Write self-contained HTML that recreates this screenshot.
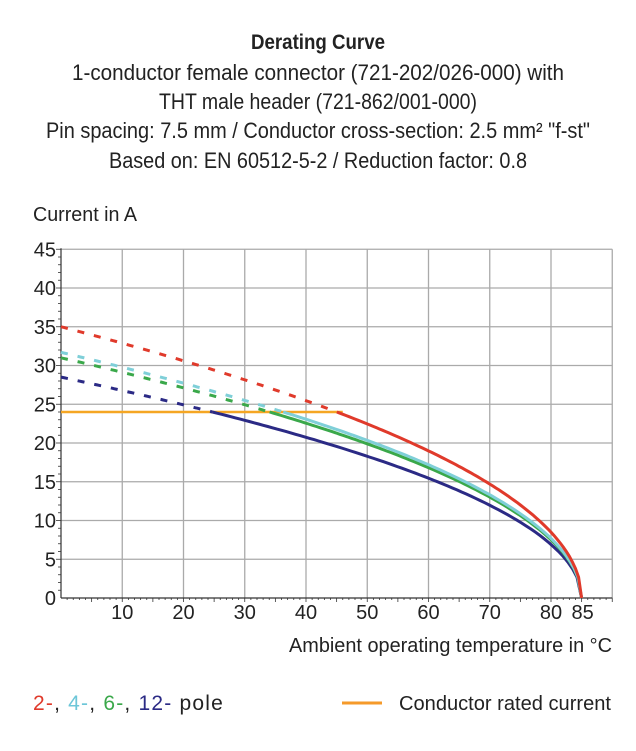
<!DOCTYPE html>
<html><head><meta charset="utf-8"><style>html,body{margin:0;padding:0;background:#fff}</style></head>
<body>
<svg id="s" width="636" height="746" xmlns="http://www.w3.org/2000/svg" font-family="Liberation Sans, sans-serif" fill="#222">
<text x="318" y="49" text-anchor="middle" font-size="21" font-weight="bold" textLength="134" lengthAdjust="spacingAndGlyphs">Derating Curve</text>
<text x="318" y="80" text-anchor="middle" font-size="22" textLength="492" lengthAdjust="spacingAndGlyphs">1-conductor female connector (721-202/026-000) with</text>
<text x="318" y="109" text-anchor="middle" font-size="22" textLength="318" lengthAdjust="spacingAndGlyphs">THT male header (721-862/001-000)</text>
<text x="318" y="138" text-anchor="middle" font-size="22" textLength="544" lengthAdjust="spacingAndGlyphs">Pin spacing: 7.5 mm / Conductor cross-section: 2.5 mm² "f-st"</text>
<text x="318" y="168" text-anchor="middle" font-size="22" textLength="418" lengthAdjust="spacingAndGlyphs">Based on: EN 60512-5-2 / Reduction factor: 0.8</text>
<text x="33" y="221" font-size="20" textLength="104" lengthAdjust="spacingAndGlyphs">Current in A</text>
<g id="grid" stroke="#aaa" stroke-width="1.3"></g>
<g id="axes" stroke="#333" stroke-width="1.2"></g>
<g id="lab" font-size="20"></g>
<g id="curves" fill="none" stroke-width="3"></g>
<text x="289" y="652" font-size="20" textLength="323" lengthAdjust="spacingAndGlyphs">Ambient operating temperature in °C</text>
<text x="33" y="710" font-size="21" letter-spacing="1.2"><tspan fill="#e03a2b">2-</tspan>, <tspan fill="#6cc6d8">4-</tspan>, <tspan fill="#3aa84a">6-</tspan>, <tspan fill="#2b2a85">12-</tspan> pole</text>
<line x1="342" y1="703" x2="382" y2="703" stroke="#f59a2a" stroke-width="3"/>
<text x="399" y="710" font-size="20" textLength="212" lengthAdjust="spacingAndGlyphs">Conductor rated current</text>
</svg>
<script>
var NS="http://www.w3.org/2000/svg";
function X(t){return 61+t*6.125}
function Y(a){return 598-a*7.75}
function el(p,tag,at,txt){var e=document.createElementNS(NS,tag);for(var k in at)e.setAttribute(k,at[k]);if(txt!==undefined)e.textContent=txt;document.getElementById(p).appendChild(e);return e}
for(var t=10;t<=90;t+=10)el("grid","line",{x1:X(t),y1:Y(45),x2:X(t),y2:Y(0)});
for(var a=5;a<=45;a+=5)el("grid","line",{x1:X(0),y1:Y(a),x2:X(90),y2:Y(a)});
el("axes","line",{x1:X(0),y1:Y(45)-1,x2:X(0),y2:Y(0)});
el("axes","line",{x1:X(0),y1:Y(0),x2:X(90),y2:Y(0)});
for(var t=1;t<=90;t++)el("axes","line",{x1:X(t),y1:Y(0),x2:X(t),y2:Y(0)+(t%5==0?4:2),"stroke-width":0.8});
for(var a=1;a<=45;a++)el("axes","line",{x1:X(0),y1:Y(a),x2:X(0)-(a%5==0?5:3),y2:Y(a),"stroke-width":0.8});
for(var a=0;a<=45;a+=5)el("lab","text",{x:56,y:Y(a)+7,"text-anchor":"end"},a);
[10,20,30,40,50,60,70,80].forEach(function(t){el("lab","text",{x:X(t),y:619,"text-anchor":"middle"},t)});
el("lab","text",{x:X(85)+1,y:619,"text-anchor":"middle"},85);
el("curves","line",{x1:X(0),y1:Y(24),x2:X(46),y2:Y(24),stroke:"#f5a623","stroke-width":2.5});
var S=[[28.5,"#2b2a85"],[31,"#3aa84a"],[31.7,"#7fcfd8"],[35,"#e03a2b"]];
S.forEach(function(s){var I0=s[0],c=s[1];var tj=85*(1-Math.pow(24/I0,2));
 function pts(a,b){var p=[];for(var t=a;t<=b+1e-9;t+=(b-a)/80){var v=I0*Math.sqrt(Math.max(0,(85-t)/85));p.push(X(t).toFixed(1)+","+Y(v).toFixed(1))}return p.join(" ")}
 el("curves","polyline",{points:pts(0,tj),stroke:c,"stroke-dasharray":"7,10"});
 el("curves","polyline",{points:pts(tj,85),stroke:c});
});
</script>
</body></html>
